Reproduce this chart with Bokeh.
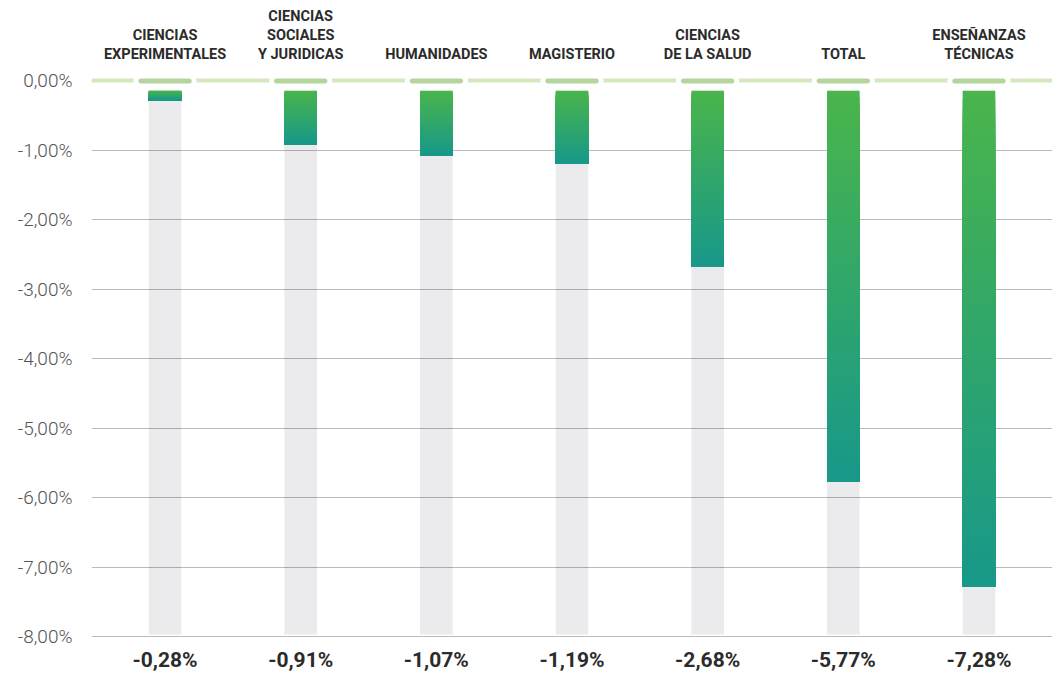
import numpy as np
from bokeh.plotting import figure
from bokeh.models import (ColumnDataSource, FactorRange, Range1d, FixedTicker,
                          CustomJSTickFormatter, CategoricalAxis)
from bokeh.core.properties import value
from bokeh.embed import file_html
from bokeh.resources import INLINE

# ---------------- data ----------------
CATEGORIES = [
    "CIENCIAS\nEXPERIMENTALES",
    "CIENCIAS\nSOCIALES\nY JURIDICAS",
    "HUMANIDADES",
    "MAGISTERIO",
    "CIENCIAS\nDE LA SALUD",
    "TOTAL",
    "ENSEÑANZAS\nTÉCNICAS",
]
VALUES = [-0.28, -0.91, -1.07, -1.19, -2.68, -5.77, -7.28]
Y_TICKS = [0, -1, -2, -3, -4, -5, -6, -7, -8]

VALUE_LABELS = [("%.2f" % v).replace(".", ",") + "%" for v in VALUES]

# ---------------- style ----------------
FONT = "Roboto"
LIGHT_FONT = "'Roboto Light', Roboto"
GREEN_TOP = np.array([74, 181, 76])
TEAL_BOTTOM = np.array([24, 153, 138])
GRAY_BAR = "#ebebed"
LINE_GREEN = "#d5e8bd"
PILL_GREEN = "#b5d49e"
BAR_START = -0.14       # bars hang just below the zero line
SCALE_END = -7.97
BAR_W = 0.24
LABEL_Y = 0.26
N_SLICES = 60
PAD = 0.012

p = figure(
    frame_width=961, frame_height=639,
    x_range=FactorRange(*CATEGORIES, range_padding=PAD),
    y_range=Range1d(-8.043, 1.159),
    x_axis_location=None,
    output_backend="svg", toolbar_location=None,
    min_border_left=91, min_border_right=0, min_border_top=0, min_border_bottom=36,
    background_fill_color="white", border_fill_color="white",
)
p.outline_line_color = None

# background gray columns (below the grid lines)
gray = p.vbar(x=CATEGORIES, top=BAR_START, bottom=SCALE_END, width=BAR_W,
              fill_color=GRAY_BAR, line_color=None)
gray.level = "image"

# grid
p.xgrid.grid_line_color = None
p.ygrid.ticker = FixedTicker(ticks=Y_TICKS)
p.ygrid.grid_line_color = "black"
p.ygrid.grid_line_alpha = 0.27
p.ygrid.grid_line_width = 1

# gradient bars (stacked slices top -> bottom, each covering to the bar end)
xs, tops, bottoms, colors = [], [], [], []
for cat, v in zip(CATEGORIES, VALUES):
    edges = np.linspace(BAR_START, v, N_SLICES + 1)
    for k in range(N_SLICES):
        t = k / (N_SLICES - 1)
        c = (GREEN_TOP * (1 - t) + TEAL_BOTTOM * t).astype(int)
        xs.append(cat)
        tops.append(edges[k])
        bottoms.append(v)
        colors.append("#%02x%02x%02x" % tuple(c))
src = ColumnDataSource(dict(x=xs, top=tops, bottom=bottoms, color=colors))
p.vbar(x="x", top="top", bottom="bottom", width=BAR_W, fill_color="color",
       line_color=None, source=src)

# zero line with pills
p.hspan(y=[0], line_color=LINE_GREEN, line_width=4)
p.rect(x=CATEGORIES, y=[0] * len(CATEGORIES), width=0.43, height=10,
       height_units="screen", border_radius=5, fill_color=PILL_GREEN,
       line_color="white", line_width=5)

# category labels
p.text(x=CATEGORIES, y=[LABEL_Y] * len(CATEGORIES), text=CATEGORIES,
       text_align="center", text_baseline="bottom",
       text_font=value(FONT), text_font_style="bold", text_font_size="14.5px",
       text_line_height=1.11, text_color="#2b2b2b")

# y axis
p.yaxis.ticker = FixedTicker(ticks=Y_TICKS)
p.yaxis.formatter = CustomJSTickFormatter(
    code="return tick.toFixed(2).replace('.', ',') + '%';")
p.yaxis.axis_line_color = None
p.yaxis.major_tick_line_color = None
p.yaxis.minor_tick_line_color = None
p.yaxis.major_tick_out = 0
p.yaxis.major_tick_in = 0
p.yaxis.minor_tick_out = 0
p.yaxis.major_label_standoff = 19
p.yaxis.major_label_text_font = LIGHT_FONT
p.yaxis.major_label_text_font_size = "19px"
p.yaxis.major_label_text_color = "#555555"

# x axis: value labels (a categorical range of the formatted values)
p.extra_x_ranges = {"vals": FactorRange(*VALUE_LABELS, range_padding=PAD)}
xa = CategoricalAxis(x_range_name="vals")
xa.axis_line_color = None
xa.major_tick_line_color = None
xa.minor_tick_line_color = None
xa.major_tick_out = 0
xa.major_tick_in = 0
xa.major_label_standoff = 8
xa.major_label_text_font = FONT
xa.major_label_text_font_style = "bold"
xa.major_label_text_font_size = "21px"
xa.major_label_text_color = "#2b2b2b"
p.add_layout(xa, "below")

open("out.html", "w").write(file_html(p, INLINE))
